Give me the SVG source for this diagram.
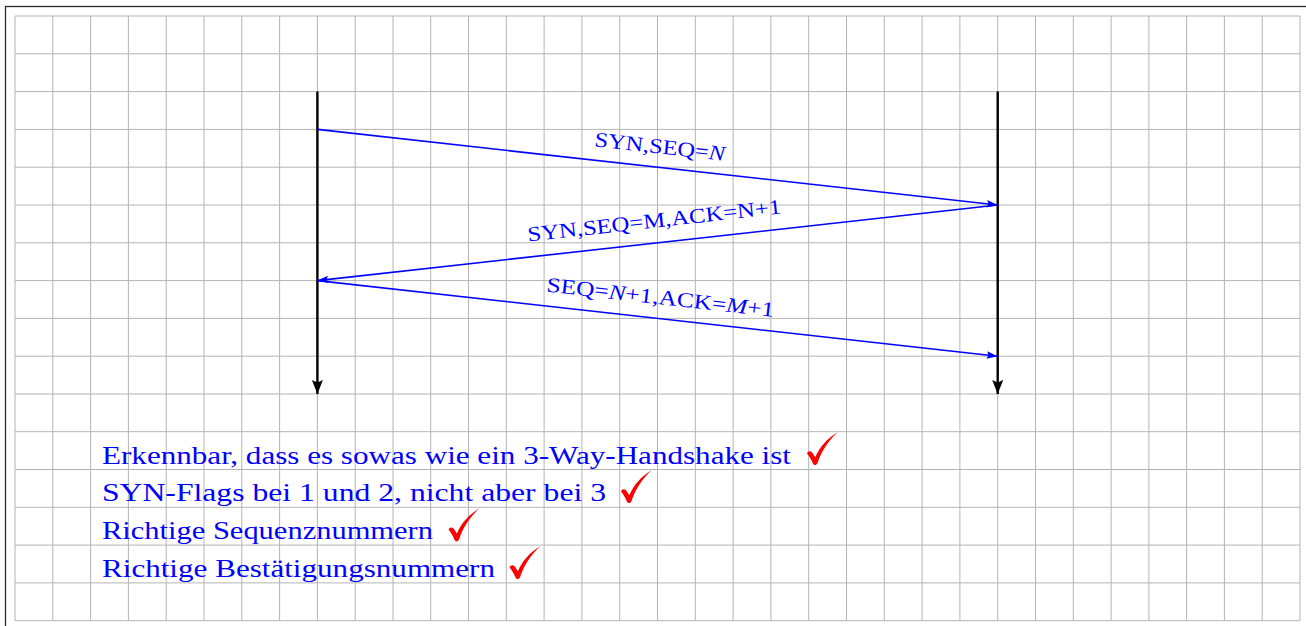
<svg xmlns="http://www.w3.org/2000/svg" width="1306" height="626" viewBox="0 0 1306 626">
<style>
.grid{fill:none;stroke:#b4b4b4;stroke-width:1}
.frame{fill:none;stroke:#2a2a2a;stroke-width:1.3}
.life{stroke:#000;stroke-width:2.4;fill:none}
.msg{stroke:#0000ff;stroke-width:1.6;fill:none}
.lbl{font-family:"Liberation Serif","Times New Roman",serif;font-size:21px;fill:#0000ff}
.note{font-family:"Liberation Serif","Times New Roman",serif;font-size:26px;fill:#0000ff}
.it{font-style:italic}
.chk{fill:#ff0000}
</style>
<defs>
<marker id="ab" markerUnits="userSpaceOnUse" markerWidth="12" markerHeight="8" refX="11" refY="3.75" orient="auto">
<path d="M0,0 L11,3.75 L0,7.5 L1.8,3.75 Z" fill="#0000ff"/>
</marker>
<marker id="ak" markerUnits="userSpaceOnUse" markerWidth="15" markerHeight="12" refX="14" refY="5.5" orient="auto">
<path d="M0,0 L14,5.5 L0,11 L2.5,5.5 Z" fill="#000"/>
</marker>
<path id="check" d="M0.3,21.5 C1.3,18.6 4.2,18.6 5.8,21 L8.6,25.3 C13,15 20,7 31,0 C22,8.5 15,18.5 10.8,31 C9.8,33.6 7.4,33.6 6.4,32 C4.8,28 2.8,24.5 0.3,21.5 Z"/>
</defs>
<rect x="0" y="0" width="1306" height="626" fill="#fff"/>
<rect class="frame" x="5.5" y="6.5" width="1306" height="630"/>
<path class="grid" d="M15 16V620.7M52.8 16V620.7M90.6 16V620.7M128.4 16V620.7M166.2 16V620.7M204 16V620.7M241.8 16V620.7M279.6 16V620.7M317.4 16V620.7M355.2 16V620.7M393 16V620.7M430.7 16V620.7M468.5 16V620.7M506.3 16V620.7M544.1 16V620.7M581.9 16V620.7M619.7 16V620.7M657.5 16V620.7M695.3 16V620.7M733.1 16V620.7M770.9 16V620.7M808.7 16V620.7M846.5 16V620.7M884.3 16V620.7M922.1 16V620.7M959.9 16V620.7M997.7 16V620.7M1035.5 16V620.7M1073.3 16V620.7M1111.1 16V620.7M1148.9 16V620.7M1186.6 16V620.7M1224.4 16V620.7M1262.2 16V620.7M1300 16V620.7M15 16H1300M15 53.8H1300M15 91.6H1300M15 129.4H1300M15 167.2H1300M15 205H1300M15 242.8H1300M15 280.6H1300M15 318.4H1300M15 356.2H1300M15 394H1300M15 431.7H1300M15 469.5H1300M15 507.3H1300M15 545.1H1300M15 582.9H1300M15 620.7H1300"/>
<g id="client">
<line class="life" x1="317.4" y1="91.6" x2="317.4" y2="394" marker-end="url(#ak)"/>
</g>
<g id="server">
<line class="life" x1="997.7" y1="91.6" x2="997.7" y2="394" marker-end="url(#ak)"/>
</g>
<g id="connectors">
<line class="msg" x1="317.4" y1="129.4" x2="997.7" y2="205" marker-end="url(#ab)"/>
<line class="msg" x1="997.7" y1="205" x2="317.4" y2="280.6" marker-end="url(#ab)"/>
<line class="msg" x1="317.4" y1="280.6" x2="997.7" y2="356.2" marker-end="url(#ab)"/>
<text class="lbl" text-anchor="middle" transform="translate(659,153.5) rotate(6.34)" textLength="131" lengthAdjust="spacingAndGlyphs">SYN,SEQ=<tspan class="it">N</tspan></text>
<text class="lbl" text-anchor="middle" transform="translate(655,227.5) rotate(-6.34)" textLength="255" lengthAdjust="spacingAndGlyphs">SYN,SEQ=M,ACK=N+1</text>
<text class="lbl" text-anchor="middle" transform="translate(659.7,304.2) rotate(6.34)" textLength="229" lengthAdjust="spacingAndGlyphs">SEQ=<tspan class="it">N</tspan>+1,ACK=<tspan class="it">M</tspan>+1</text>
</g>
<g id="notes">
<text class="note" x="102" y="463.5" textLength="689" lengthAdjust="spacingAndGlyphs">Erkennbar, dass es sowas wie ein 3-Way-Handshake ist</text>
<text class="note" x="102" y="501.3" textLength="504" lengthAdjust="spacingAndGlyphs">SYN-Flags bei 1 und 2, nicht aber bei 3</text>
<text class="note" x="102" y="539" textLength="331" lengthAdjust="spacingAndGlyphs">Richtige Sequenznummern</text>
<text class="note" x="102" y="576.8" textLength="393" lengthAdjust="spacingAndGlyphs">Richtige Bestätigungsnummern</text>
<use class="chk" href="#check" x="806.7" y="432"/>
<use class="chk" href="#check" x="620.7" y="470"/>
<use class="chk" href="#check" x="448.3" y="508.3"/>
<use class="chk" href="#check" x="509.3" y="546"/>
</g>
</svg>
